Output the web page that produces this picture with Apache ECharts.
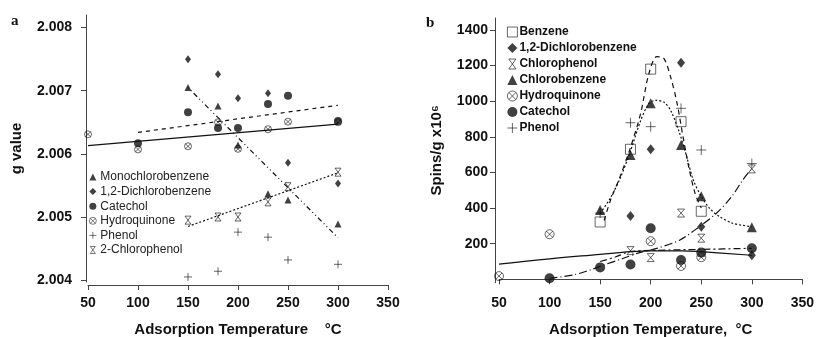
<!DOCTYPE html>
<html>
<head>
<meta charset="utf-8">
<script src="https://cdn.jsdelivr.net/npm/echarts@6/dist/echarts.min.js"></script>
<style>
  html,body{margin:0;padding:0;background:#fff;}
  #chart{width:816px;height:337px;}
</style>
</head>
<body>
<div id="chart"></div>
<script>
// ---- panel a : g value ----
var tempsA = [150, 180, 200, 230, 250, 300];
var monoA = [2.00705, 2.00676, 2.00614, 2.00537, 2.00527, 2.00489];
var dichloroA = [2.00750, 2.00726, 2.00688, 2.00696, 2.00586, 2.00553];
var catTempsA = [100, 150, 180, 200, 230, 250, 300];
var catecholA = [2.00617, 2.00666, 2.00641, 2.00641, 2.00679, 2.00692, 2.00652];
var hydTempsA = [50, 100, 150, 180, 200, 230, 250, 300];
var hydroA = [2.00631, 2.00607, 2.00612, 2.00650, 2.00608, 2.00639, 2.00651, 2.00650];
var phenolA = [2.00405, 2.00414, 2.00476, 2.00468, 2.00432, 2.00425];
var chlorophenolA = [2.00495, 2.00500, 2.00500, 2.00524, 2.00548, 2.00571];
// fitted lines (end points)
var fitHydroA = [[50, 2.00613], [300, 2.00647]];
var fitCatA = [[100, 2.00634], [300, 2.00677]];
var fitCpA = [[150, 2.00485], [300, 2.00570]];
var fitMonoA = [[150, 2.00705], [300, 2.00467]];
var yTicksA = [2.004, 2.005, 2.006, 2.007, 2.008];

// ---- panel b : spins/g ----
var benzTempsB = [150, 180, 200, 230, 250];
var benzeneB = [322, 730, 1180, 885, 382];
var dcTempsB = [180, 200, 230, 250, 300];
var dichloroB = [355, 730, 1216, 295, 135];
var cpTempsB = [180, 200, 230, 250, 300];
var chlorophenolB = [161, 122, 372, 231, 620];
var cbTempsB = [150, 180, 200, 230, 250, 300];
var chlorobenzeneB = [389, 698, 988, 754, 466, 292];
var hydTempsB = [50, 100, 200, 230, 250];
var hydroB = [18, 253, 214, 75, 124];
var catTempsB = [100, 150, 180, 200, 230, 250, 300];
var catecholB = [6, 67, 83, 287, 108, 150, 174];
var phTempsB = [150, 180, 200, 230, 250, 300];
var phenolB = [372, 879, 857, 960, 726, 650];
// fitted curves (traced points)
var fitBenzB = [[154,330],[160,440],[170,580],[180,740],[190,930],[198,1150],[206,1250],[213,1240],[220,1130],[226,990],[232,800],[238,620],[244,480],[250,400]];
var fitCbB = [[150,370],[160,455],[170,570],[180,720],[190,890],[198,985],[205,1005],[213,995],[220,945],[228,830],[235,700],[242,560],[250,465],[258,400],[268,352],[281,315],[300,295]];
var fitSolidB = [[50,85],[100,115],[150,140],[180,155],[200,160],[230,160],[250,155],[300,135]];
var fitExpB = [[100,6],[123,24],[140,52],[151,75],[173,118],[189,150],[206,174],[229,221],[248,295],[265,371],[280,464],[291,557],[300,623]];
var fitFlatB = [[150,100],[165,125],[179,155],[200,162],[250,168],[300,174]];
var yTicksB = [200, 400, 600, 800, 1000, 1200, 1400];

function pairs(xs, ys){ return xs.map(function(x,i){ return [x, ys[i]]; }); }

var SYM_HOURGLASS = 'path://M0,0L10,0L0,14L10,14Z';
var SYM_PLUS = 'path://M5,0L5,10M0,5L10,5';
var SYM_OTIMES = 'path://M10,0A10,10 0 1,1 10,20A10,10 0 1,1 10,0ZM3,3L17,17M17,3L3,17';
var SYM_SQUARE = 'path://M0,0L10,0L10,10L0,10Z';

var ink = '#111';
var hollow = {color:'rgba(0,0,0,0)', borderColor: ink, borderWidth: 0.8};
var solid = {color: ink};

function scat(name, data, gi, symbol, size, style){
  return {name:name, type:'scatter', xAxisIndex:gi, yAxisIndex:gi, data:data,
    symbol:symbol, symbolSize:size, itemStyle:style, z:3};
}
function fit(data, gi, dash, smooth){
  return {type:'line', xAxisIndex:gi, yAxisIndex:gi, data:data, showSymbol:false, smooth:smooth||false,
    silent:true, lineStyle:{color:ink, width:1.2, type:dash}, z:2};
}

var axisFont = {fontFamily:'Liberation Sans, Arial, sans-serif', fontWeight:'bold', fontSize:14, color:ink};

function xAx(gi, offset, name, gap){
  return {type:'value', gridIndex:gi, min:50, max:350, interval:50, offset:offset,
    name:name, nameLocation:'middle', nameGap:gap,
    nameTextStyle:{fontFamily:axisFont.fontFamily, fontWeight:'bold', fontSize:15, color:ink},
    axisLine:{lineStyle:{color:'#444', width:1}}, axisTick:{length:5, lineStyle:{color:'#444'}},
    axisLabel:Object.assign({margin:11}, axisFont), splitLine:{show:false}};
}

var chart = echarts.init(document.getElementById('chart'));
chart.setOption({
  animation:false,
  backgroundColor:'#fff',
  title:[
    {text:'a', left:11, top:14, padding:0, textStyle:{fontFamily:'Liberation Serif, serif', fontWeight:'bold', fontSize:15, color:ink}},
    {text:'b', left:426, top:16, padding:0, textStyle:{fontFamily:'Liberation Serif, serif', fontWeight:'bold', fontSize:15, color:ink}}
  ],
  grid:[
    {left:88, top:15, width:300, height:267, outerBoundsMode:'none', containLabel:false},
    {left:499, top:18, width:303.4, height:264.7, outerBoundsMode:'none', containLabel:false}
  ],
  xAxis:[
    xAx(0, 3, 'Adsorption Temperature    °C', 37),
    xAx(1, 2, 'Adsorption Temperature,  °C', 38)
  ],
  yAxis:[
    {type:'value', gridIndex:0, min:2.00397, max:2.0082, offset:2,
      name:'g value', nameLocation:'middle', nameGap:62,
      nameTextStyle:{fontFamily:axisFont.fontFamily, fontWeight:'bold', fontSize:15, color:ink},
      axisLine:{show:true, lineStyle:{color:'#444'}},
      axisTick:{show:true, length:5, customValues:yTicksA, lineStyle:{color:'#444'}},
      axisLabel:Object.assign({margin:14, customValues:yTicksA, formatter:function(v){return v.toFixed(3);}}, axisFont),
      splitLine:{show:false}},
    {type:'value', gridIndex:1, min:-19, max:1467, offset:4,
      name:'Spins/g x10⁶', nameLocation:'middle', nameGap:51,
      nameTextStyle:{fontFamily:axisFont.fontFamily, fontWeight:'bold', fontSize:15, color:ink},
      axisLine:{show:true, lineStyle:{color:'#444'}},
      axisTick:{show:true, length:5, customValues:yTicksB, lineStyle:{color:'#444'}},
      axisLabel:Object.assign({margin:7, customValues:yTicksB, formatter:function(v){return String(Math.round(v));}}, axisFont),
      splitLine:{show:false}}
  ],
  legend:[
    {orient:'vertical', left:89, top:170, padding:0, itemWidth:7, itemHeight:7, itemGap:0.6,
      itemStyle:{borderWidth:0.7},
      textStyle:{fontFamily:'Liberation Sans, Arial, sans-serif', fontSize:12, color:'#222', padding:[0,0,0,-1], lineHeight:14},
      selectedMode:false,
      data:['Monochlorobenzene','1,2-Dichlorobenzene','Catechol','Hydroquinone','Phenol','2-Chlorophenol']},
    {orient:'vertical', left:507, top:25, padding:0, itemWidth:10, itemHeight:10, itemGap:2,
      itemStyle:{borderWidth:0.8},
      textStyle:{fontFamily:'Liberation Sans, Arial, sans-serif', fontWeight:'bold', fontSize:12, color:ink, padding:[0,0,0,-3], lineHeight:14},
      selectedMode:false,
      data:['Benzene','1,2-Dichlorobenzene','Chlorophenol','Chlorobenzene','Hydroquinone','Catechol','Phenol']}
  ],
  series:[
    // panel a fits
    fit(fitHydroA, 0, 'solid'),
    fit(fitCatA, 0, [4,4]),
    fit(fitCpA, 0, [2,2]),
    fit(fitMonoA, 0, [1,3,1,3,5,3]),
    // panel a points
    scat('Monochlorobenzene', pairs(tempsA, monoA), 0, 'triangle', 7, solid),
    scat('1,2-Dichlorobenzene', pairs(tempsA, dichloroA), 0, 'diamond', [6,8], solid),
    scat('Catechol', pairs(catTempsA, catecholA), 0, 'circle', 8, solid),
    scat('Hydroquinone', pairs(hydTempsA, hydroA), 0, SYM_OTIMES, 7, hollow),
    scat('Phenol', pairs(tempsA, phenolA), 0, SYM_PLUS, 8, hollow),
    scat('2-Chlorophenol', pairs(tempsA, chlorophenolA), 0, SYM_HOURGLASS, [6,8], hollow),
    // panel b fits
    fit(fitBenzB, 1, [5,4], 0.3),
    fit(fitCbB, 1, [2,2], 0.3),
    fit(fitSolidB, 1, 'solid', 0.4),
    fit(fitExpB, 1, [8,3,1,3], 0.3),
    fit(fitFlatB, 1, [7,3,2,3], 0.3),
    // panel b points
    scat('Benzene', pairs(benzTempsB, benzeneB), 1, SYM_SQUARE, 10, hollow),
    scat('1,2-Dichlorobenzene', pairs(dcTempsB, dichloroB), 1, 'diamond', [8,10], solid),
    scat('Chlorophenol', pairs(cpTempsB, chlorophenolB), 1, SYM_HOURGLASS, [7,8], hollow),
    scat('Chlorobenzene', pairs(cbTempsB, chlorobenzeneB), 1, 'triangle', 10, solid),
    scat('Hydroquinone', pairs(hydTempsB, hydroB), 1, SYM_OTIMES, 9, hollow),
    scat('Catechol', pairs(catTempsB, catecholB), 1, 'circle', 10, solid),
    scat('Phenol', pairs(phTempsB, phenolB), 1, SYM_PLUS, 10, hollow)
  ]
});
</script>
</body>
</html>
